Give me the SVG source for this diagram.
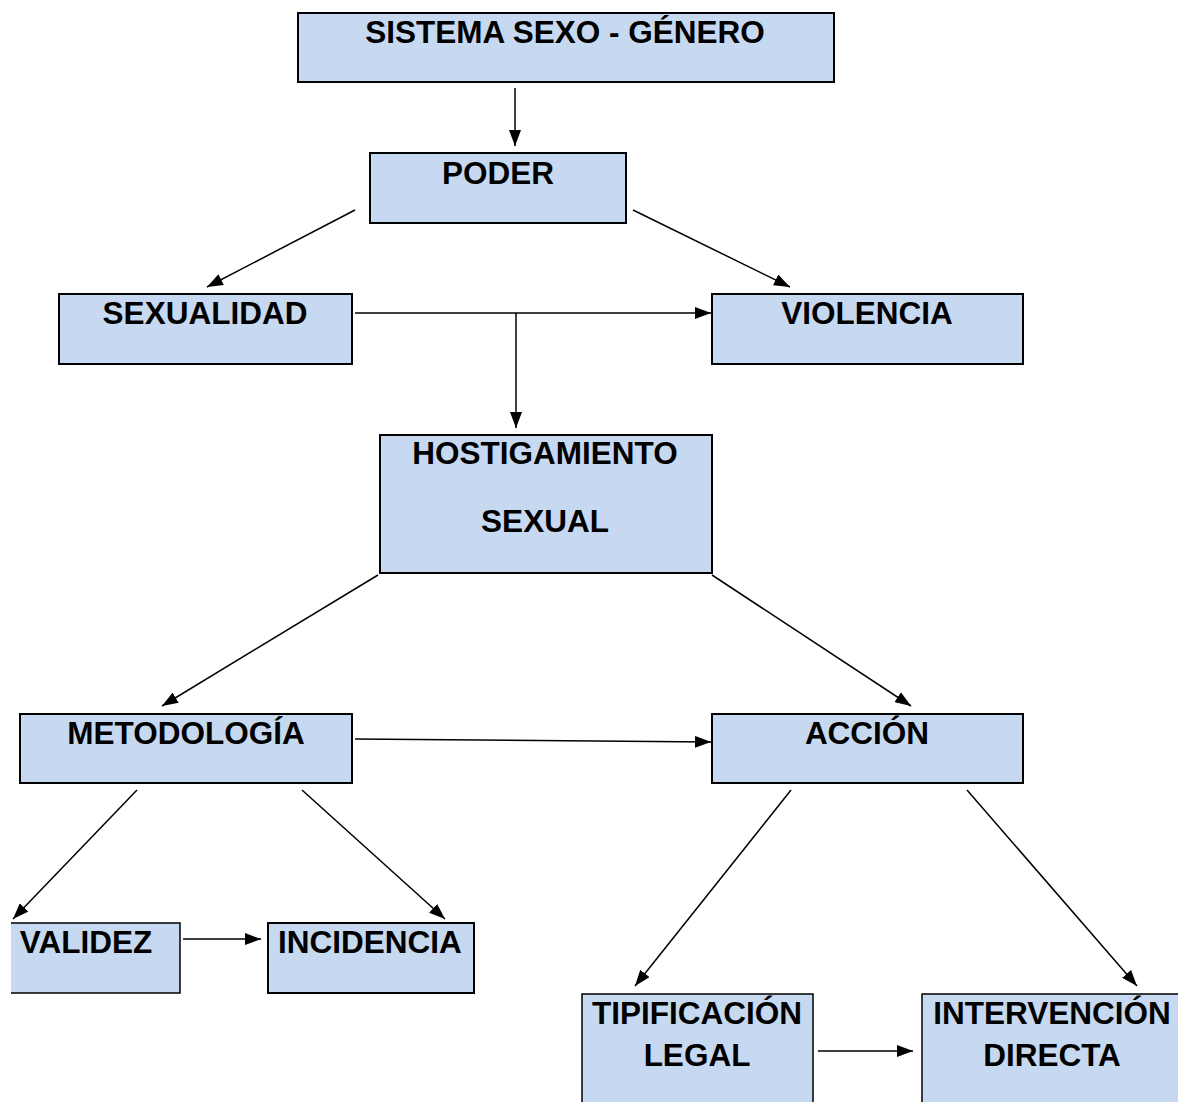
<svg xmlns="http://www.w3.org/2000/svg" width="1178" height="1102" viewBox="0 0 1178 1102">
<defs>
<marker id="ah" markerWidth="16" markerHeight="12" refX="16" refY="6" orient="auto" markerUnits="userSpaceOnUse">
<path d="M0,0 L16,6 L0,12 Z" fill="#000"/>
</marker>
<style>
.box{fill:#c6d9f1;stroke:#000;stroke-width:2}
.t{font-family:"Liberation Sans",Arial,sans-serif;font-weight:bold;font-size:31.5px;fill:#000;text-anchor:middle}
.c{stroke:#000;stroke-width:1.5;fill:none;marker-end:url(#ah)}
.l{stroke:#000;stroke-width:1.5;fill:none}
</style>
</defs>
<rect width="1178" height="1102" fill="#fff"/>
<g id="n-sistema"><rect class="box" x="298" y="13" width="536" height="69"/><text class="t" x="565" y="43">SISTEMA SEXO - GÉNERO</text></g>
<g id="n-poder"><rect class="box" x="370" y="153" width="256" height="70"/><text class="t" x="498" y="184">PODER</text></g>
<g id="n-sexualidad"><rect class="box" x="59" y="294" width="293" height="70"/><text class="t" x="205" y="324">SEXUALIDAD</text></g>
<g id="n-violencia"><rect class="box" x="712" y="294" width="311" height="70"/><text class="t" x="867" y="324">VIOLENCIA</text></g>
<g id="n-hostigamiento"><rect class="box" x="380" y="435" width="332" height="138"/><text class="t" x="545" y="464">HOSTIGAMIENTO</text><text class="t" x="545" y="532">SEXUAL</text></g>
<g id="n-metodologia"><rect class="box" x="20" y="714" width="332" height="69"/><text class="t" x="186" y="744">METODOLOGÍA</text></g>
<g id="n-accion"><rect class="box" x="712" y="714" width="311" height="69"/><text class="t" x="867" y="744">ACCIÓN</text></g>
<g id="n-validez"><path d="M11,923 H180 V993 H11 Z" fill="#c6d9f1"/><path class="l" d="M11,923 H180 V993 H11" stroke-width="2"/><text class="t" x="86" y="953">VALIDEZ</text></g>
<g id="n-incidencia"><rect class="box" x="268" y="923" width="206" height="70"/><text class="t" x="370" y="953">INCIDENCIA</text></g>
<g id="n-tipificacion"><path d="M582,1104 V994 H813 V1104 Z" fill="#c6d9f1"/><path class="l" d="M582,1104 V994 H813 V1104" stroke-width="2"/><text class="t" x="697" y="1024">TIPIFICACIÓN</text><text class="t" x="697" y="1066">LEGAL</text></g>
<g id="n-intervencion"><path d="M922,1104 V994 H1180 V1104 Z" fill="#c6d9f1"/><path class="l" d="M922,1104 V994 H1180" stroke-width="2"/><text class="t" x="1052" y="1024">INTERVENCIÓN</text><text class="t" x="1052" y="1066">DIRECTA</text></g>
<g id="connectors">
<line class="c" x1="515" y1="88" x2="515" y2="146"/>
<line class="c" x1="355" y1="210" x2="207" y2="287"/>
<line class="c" x1="633" y1="210" x2="790" y2="287"/>
<line class="c" x1="355" y1="313" x2="711" y2="313"/>
<line class="c" x1="516" y1="313" x2="516" y2="428"/>
<line class="c" x1="378" y1="575" x2="162" y2="706"/>
<line class="c" x1="712" y1="575" x2="911" y2="706"/>
<line class="c" x1="355" y1="739" x2="711" y2="742"/>
<line class="c" x1="137" y1="790" x2="13" y2="919"/>
<line class="c" x1="302" y1="790" x2="445" y2="919"/>
<line class="c" x1="183" y1="939" x2="261" y2="939"/>
<line class="c" x1="791" y1="790" x2="635" y2="986"/>
<line class="c" x1="967" y1="790" x2="1137" y2="986"/>
<line class="c" x1="818" y1="1051" x2="913" y2="1051"/>
</g>
</svg>
